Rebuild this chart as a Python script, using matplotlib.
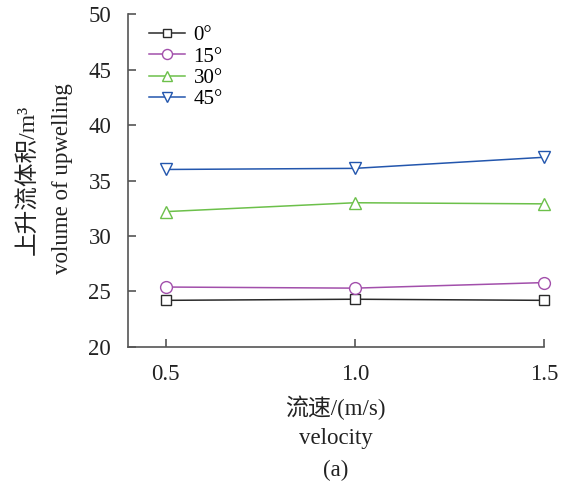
import matplotlib
matplotlib.use("Agg")
import matplotlib.pyplot as plt

plt.rcParams['font.family'] = ['Liberation Serif', 'Noto Sans CJK SC', 'DejaVu Sans']

velocity = [0.5, 1.0, 1.5]
labels = ['0°', '15°', '30°', '45°']
v0 = [24.2, 24.3, 24.2]
v15 = [25.4, 25.3, 25.8]
v30 = [32.2, 33.0, 32.9]
v45 = [36.0, 36.1, 37.1]
series = [v0, v15, v30, v45]
colors = ['#2a2a2a', '#a24fab', '#6cc04a', '#2356ad']
markers = ['s', 'o', '^', 'v']
msizes = [7.5, 8.5, 8.5, 8.5]
yticks = [20, 25, 30, 35, 40, 45, 50]
xticks = [0.5, 1.0, 1.5]

fig = plt.figure(figsize=(5.66, 4.9), dpi=100)
ax = fig.add_axes([0.226, 0.292, 0.735, 0.679])

for vals, lab, c, m, ms in zip(series, labels, colors, markers, msizes):
    ax.plot(velocity, vals, color=c, marker=m, markersize=ms, markerfacecolor='white',
            markeredgecolor=c, markeredgewidth=1.0, linewidth=1.1, label=lab, clip_on=False)

ax.set_xlim(0.4, 1.5)
ax.set_ylim(20, 50)
ax.set_xticks(xticks)
ax.set_xticklabels(['0.5', '1.0', '1.5'])
ax.set_yticks(yticks)
for s in ['top', 'right']:
    ax.spines[s].set_visible(False)
for s in ['left', 'bottom']:
    ax.spines[s].set_color('#555555')
    ax.spines[s].set_linewidth(1.2)
ax.tick_params(direction='in', length=6, width=1.2, color='#555555', labelsize=16.5, colors='#222222')
ax.tick_params(axis='y', pad=12)
ax.tick_params(axis='x', pad=12)

leg = ax.legend(loc='upper left', frameon=False, fontsize=15, handlelength=1.75,
                handletextpad=0.4, borderaxespad=0.0, labelspacing=0.08,
                markerscale=0.85, bbox_to_anchor=(0.03, 0.99))

fig.text(0.05, 0.633, '上升流体积/m³', rotation=90, ha='center', va='center', fontsize=17, color='#222222')
fig.text(0.11, 0.635, 'volume of upwelling', rotation=90, ha='center', va='center', fontsize=16.5, color='#222222')
fig.text(0.593, 0.167, '流速/(m/s)', ha='center', va='center', fontsize=16.5, color='#222222')
fig.text(0.593, 0.106, 'velocity', ha='center', va='center', fontsize=16.5, color='#222222')
fig.text(0.593, 0.040, '(a)', ha='center', va='center', fontsize=16.5, color='#222222')

fig.savefig('out.png', dpi=100)
